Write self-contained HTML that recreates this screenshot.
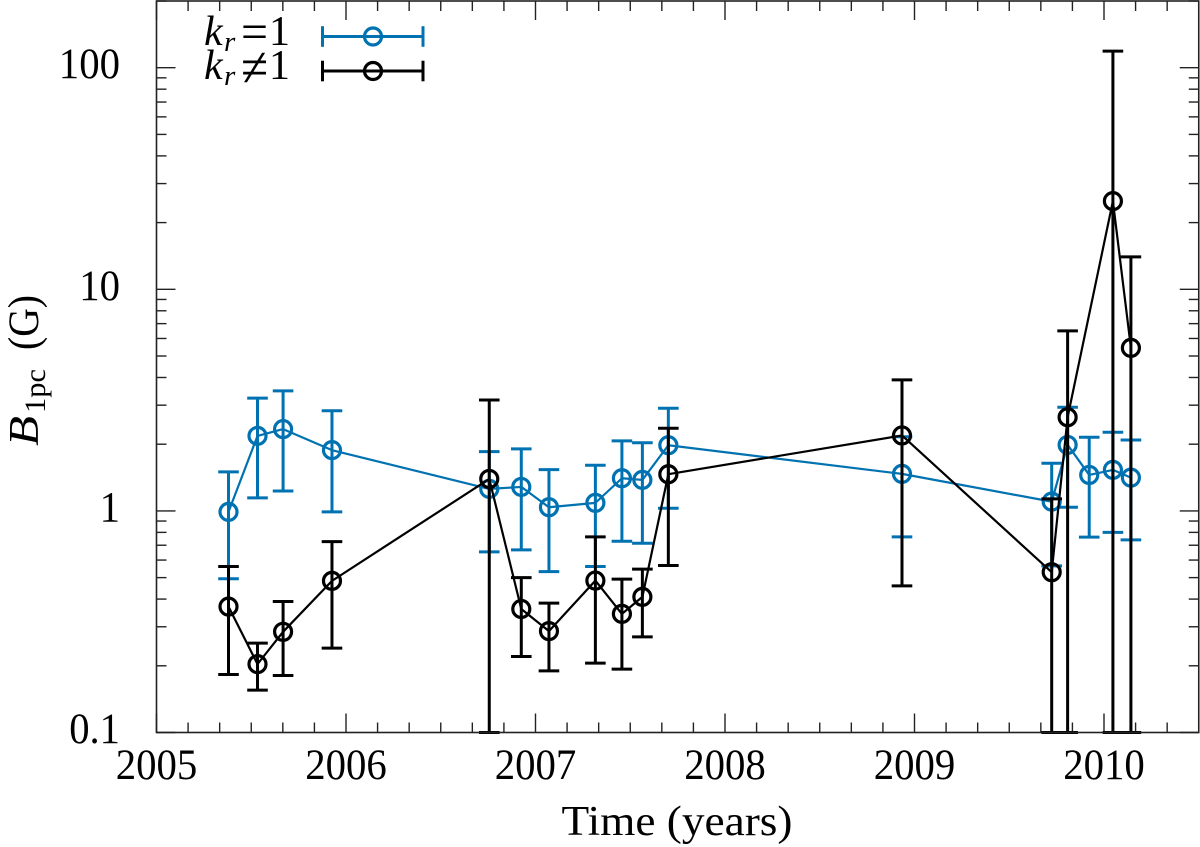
<!DOCTYPE html>
<html lang="en">
<head>
<meta charset="utf-8">
<title>B1pc versus time</title>
<style>
  html, body { margin: 0; padding: 0; background: #fff; }
  svg { display: block; }
  text { font-family: "Liberation Serif", "DejaVu Serif", serif; fill: #000; }
</style>
</head>
<body>
<svg id="chart" xmlns="http://www.w3.org/2000/svg" width="1200" height="847" viewBox="0 0 1200 847">
  <g transform="translate(38 446) rotate(-90)">
    <text x="0" y="0" font-size="42" font-style="italic" textLength="30" lengthAdjust="spacingAndGlyphs">B</text>
    <text x="33" y="7" font-size="30" textLength="44" lengthAdjust="spacingAndGlyphs">1pc</text>
    <text x="96" y="0" font-size="43" textLength="55" lengthAdjust="spacingAndGlyphs">(G)</text>
  </g>
  <text x="677" y="835" font-size="42" text-anchor="middle" textLength="231" lengthAdjust="spacingAndGlyphs">Time (years)</text>
  <g>
    <text x="204" y="45" font-size="42" font-style="italic">k</text>
    <text x="224" y="51" font-size="29" font-style="italic">r</text>
    <text x="241" y="48.5" font-size="50" textLength="27" lengthAdjust="spacingAndGlyphs">=</text>
    <text x="269" y="45" font-size="42">1</text>
  </g>
  <g>
    <text x="204" y="79" font-size="42" font-style="italic">k</text>
    <text x="224" y="85" font-size="29" font-style="italic">r</text>
    <text x="241" y="86" font-size="56" textLength="27" lengthAdjust="spacingAndGlyphs">≠</text>
    <text x="269" y="79" font-size="42">1</text>
  </g>
</svg>
<script>
// Chart data
const blueYears = [2005.380, 2005.533, 2005.668, 2005.926, 2006.756, 2006.925, 2007.071, 2007.316, 2007.456, 2007.564, 2007.701, 2008.934, 2009.724, 2009.808, 2009.922, 2010.047, 2010.142];
const blueValues = [0.99, 2.18, 2.34, 1.88, 1.257, 1.283, 1.039, 1.087, 1.404, 1.38, 1.978, 1.469, 1.101, 1.985, 1.453, 1.531, 1.413];
const blueUpper = [1.50, 3.23, 3.48, 2.83, 1.852, 1.904, 1.535, 1.607, 2.07, 2.03, 2.905, 2.16, 1.641, 2.937, 2.15, 2.265, 2.09];
const blueLower = [0.494, 1.145, 1.23, 0.99, 0.653, 0.667, 0.532, 0.561, 0.730, 0.715, 1.028, 0.763, 0.565, 1.039, 0.761, 0.80, 0.740];
const blackYears = [2005.380, 2005.533, 2005.668, 2005.926, 2006.756, 2006.925, 2007.071, 2007.316, 2007.456, 2007.564, 2007.701, 2008.934, 2009.724, 2009.808, 2010.047, 2010.142];
const blackValues = [0.370, 0.2035, 0.2847, 0.4833, 1.394, 0.361, 0.2867, 0.4848, 0.343, 0.4094, 1.464, 2.19, 0.529, 2.646, 25.0, 5.44];
const blackUpper = [0.561, 0.2531, 0.390, 0.727, 3.167, 0.500, 0.3835, 0.763, 0.492, 0.546, 2.361, 3.90, 1.133, 6.49, 118.8, 14.0];
const blackLower = [0.1827, 0.1553, 0.1808, 0.2402, 0.1, 0.2202, 0.1898, 0.2056, 0.1932, 0.2702, 0.567, 0.459, 0.1, 0.1, 0.1, 0.1];
const xTickYears = [2005, 2006, 2007, 2008, 2009, 2010];
const xTickLabels = ['2005', '2006', '2007', '2008', '2009', '2010'];
const yTickValues = [0.1, 1, 10, 100];
const yTickLabels = ['0.1', '1', '10', '100'];

const NS = 'http://www.w3.org/2000/svg';
const svg = document.getElementById('chart');
const plot = { left: 156.5, right: 1198.75, top: 1, bottom: 732.5 };
const xMin = 2005, xMax = 2010.5, yMin = 0.1, yMax = 200;
const xScale = t => plot.left + (t - xMin) / (xMax - xMin) * (plot.right - plot.left);
const yScale = v => plot.bottom - (Math.log10(v) - Math.log10(yMin)) / (Math.log10(yMax) - Math.log10(yMin)) * (plot.bottom - plot.top);
const BLUE = '#0072b2', BLACK = '#000000', AXIS = '#222222';
const labelWidth = s => s.replace('.', '').length * 20.4 + (s.includes('.') ? 10 : 0);

function make(tag, attrs, parent) {
  const el = document.createElementNS(NS, tag);
  for (const k in attrs) el.setAttribute(k, attrs[k]);
  (parent || svg).appendChild(el);
  return el;
}

// Clip region, slightly extended so clipped caps show on the frame
const defs = make('defs', {});
const clip = make('clipPath', { id: 'plot-clip' }, defs);
make('rect', { x: plot.left - 1, y: plot.top - 1, width: plot.right - plot.left + 2, height: plot.bottom - plot.top + 3 }, clip);

// Ticks
const tickGroup = make('g', { stroke: AXIS, 'stroke-width': 1.4, fill: 'none' });


for (let m = 0; m <= 33; m++) {
  const t = xMin + m / 6;
  const x = xScale(t);
  const len = m % 6 === 0 ? 19 : 10;
  const bottomTick = make('line', { x1: x, x2: x, y1: plot.bottom, y2: plot.bottom - len }, tickGroup);
  
  
  const topTick = make('line', { x1: x, x2: x, y1: plot.top, y2: plot.top + len }, tickGroup);
  
  
}
for (let d = -1; d <= 2; d++) {
  for (let n = 1; n <= 9; n++) {
    const v = n * Math.pow(10, d);
    if (v < yMin || v > yMax) continue;
    const y = yScale(v);
    const len = n === 1 ? 19 : 10;
    const leftTick = make('line', { x1: plot.left, x2: plot.left + len, y1: y, y2: y }, tickGroup);
    
    
    const rightTick = make('line', { x1: plot.right, x2: plot.right - len, y1: y, y2: y }, tickGroup);
    
    
  }
}

// Tick labels
xTickYears.forEach((t, i) => {
  const label = make('text', { x: xScale(t), y: 779, 'font-size': 43, 'text-anchor': 'middle', textLength: labelWidth(xTickLabels[i]), lengthAdjust: 'spacingAndGlyphs' });
  
  
  label.textContent = xTickLabels[i];
});
yTickValues.forEach((v, i) => {
  const label = make('text', { x: 120, y: yScale(v) + 10.5, 'font-size': 43, 'text-anchor': 'end', textLength: labelWidth(yTickLabels[i]), lengthAdjust: 'spacingAndGlyphs' });
  
  
  label.textContent = yTickLabels[i];
});

// Series
function drawSeries(name, years, values, upper, lower, color) {
  const g = make('g', { 'clip-path': 'url(#plot-clip)', fill: 'none', stroke: color });
  
  
  const line = make('polyline', { points: years.map((t, i) => xScale(t) + ',' + yScale(values[i])).join(' '), 'stroke-width': 2.2, 'stroke-linejoin': 'round' }, g);
  
  
  years.forEach((t, i) => {
    const x = xScale(t), yv = yScale(values[i]), yu = yScale(upper[i]), yl = yScale(lower[i]);
    const bar = make('line', { x1: x, x2: x, y1: yu, y2: yl, 'stroke-width': 3 }, g);
    
    
    const capTop = make('line', { x1: x - 10.3, x2: x + 10.3, y1: yu, y2: yu, 'stroke-width': 3 }, g);
    
    
    const capBottom = make('line', { x1: x - 10.3, x2: x + 10.3, y1: yl, y2: yl, 'stroke-width': 3 }, g);
    
    
    const point = make('circle', { cx: x, cy: yv, r: 8.5, 'stroke-width': 3.2 }, g);
    
    
  });
}
drawSeries('kr-equal-1', blueYears, blueValues, blueUpper, blueLower, BLUE);
drawSeries('kr-not-equal-1', blackYears, blackValues, blackUpper, blackLower, BLACK);

// Frame
const frame = make('rect', { x: plot.left, y: plot.top, width: plot.right - plot.left, height: plot.bottom - plot.top, fill: 'none', stroke: AXIS, 'stroke-width': 1.6 });



// Legend keys
function legendKey(name, y, color) {
  const g = make('g', { fill: 'none', stroke: color, 'stroke-width': 3 });
  
  
  make('line', { x1: 322.5, x2: 423, y1: y, y2: y }, g);
  make('line', { x1: 322.5, x2: 322.5, y1: y - 10.3, y2: y + 10.3 }, g);
  make('line', { x1: 423, x2: 423, y1: y - 10.3, y2: y + 10.3 }, g);
  make('circle', { cx: 373, cy: y, r: 8.5, 'stroke-width': 3.2 }, g);
}
legendKey('legend-key-kr-equal-1', 36.5, BLUE);
legendKey('legend-key-kr-not-equal-1', 71, BLACK);
</script>
</body>
</html>
